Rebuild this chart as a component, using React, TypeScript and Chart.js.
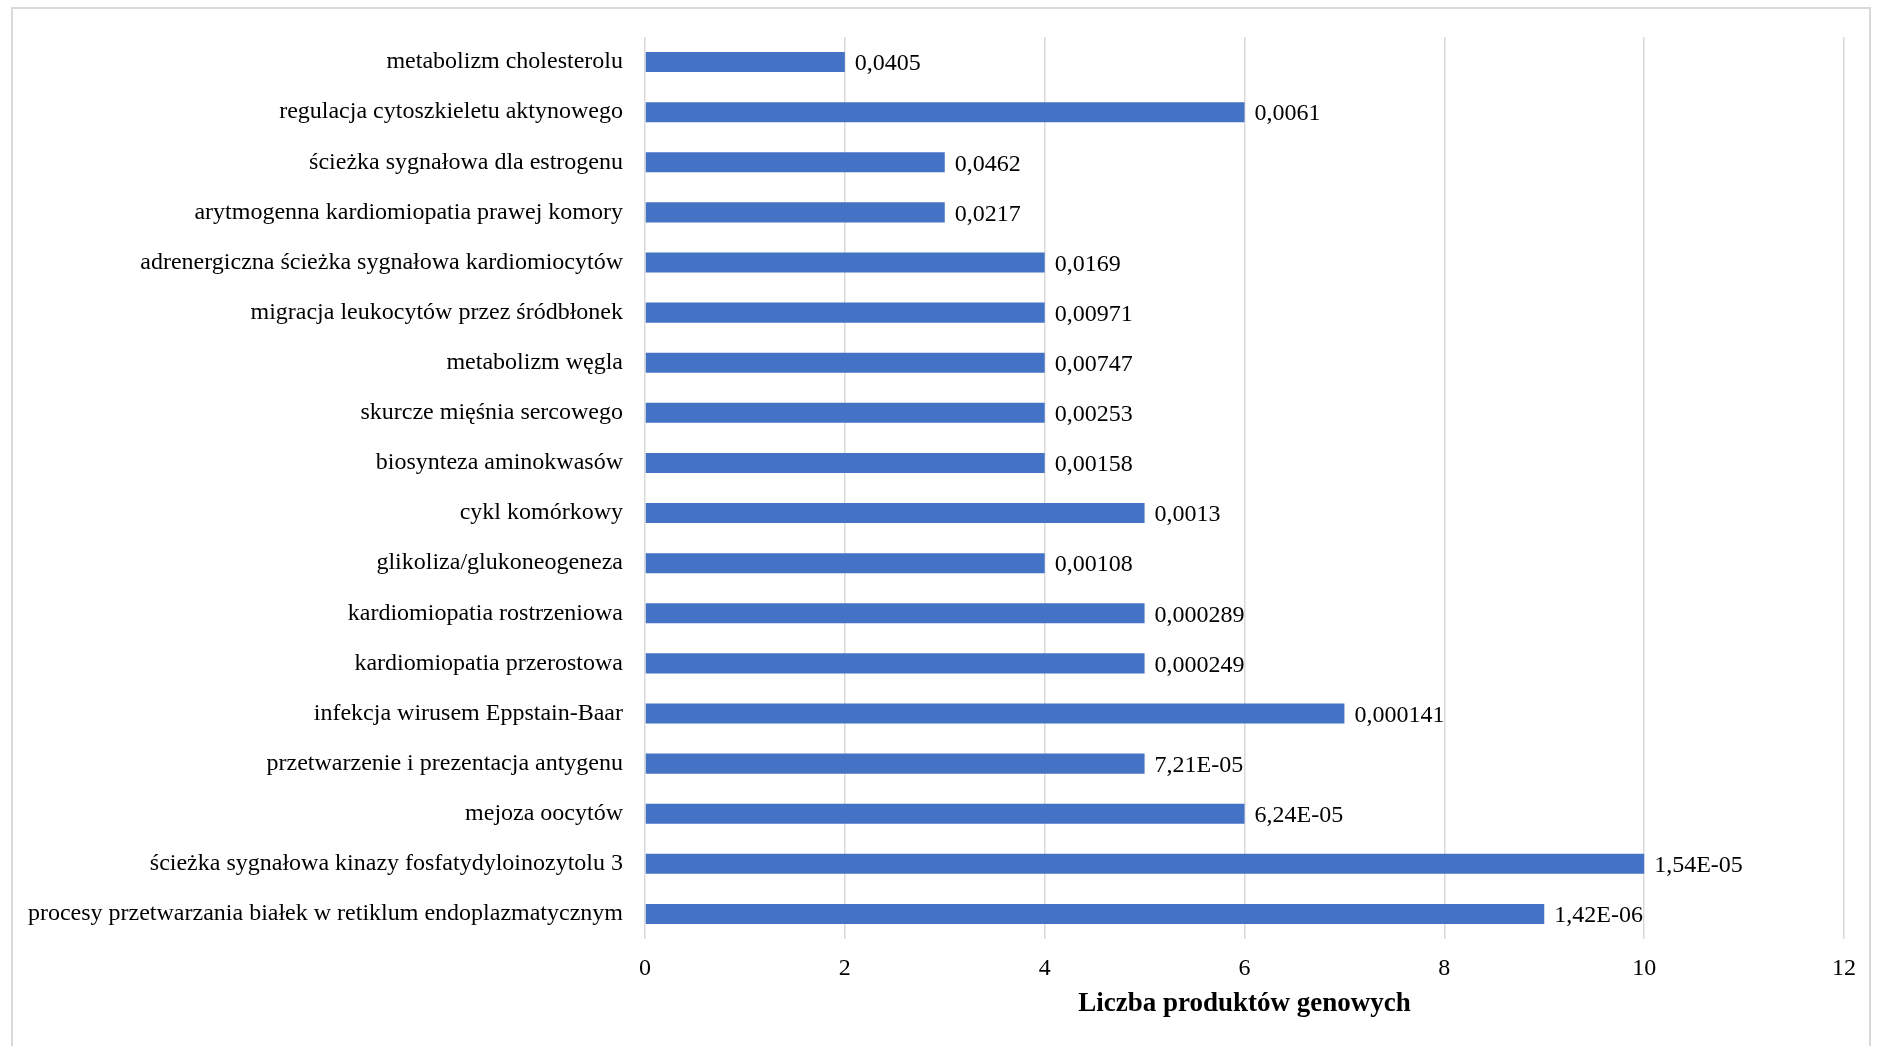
import { useEffect, useRef } from "react";
import { Chart, registerables } from "chart.js";

Chart.register(...registerables);

// KEGG pathways, top to bottom
const categories = [
  "metabolizm cholesterolu",
  "regulacja cytoszkieletu aktynowego",
  "ścieżka sygnałowa dla estrogenu",
  "arytmogenna kardiomiopatia prawej komory",
  "adrenergiczna ścieżka sygnałowa kardiomiocytów",
  "migracja leukocytów przez śródbłonek",
  "metabolizm węgla",
  "skurcze mięśnia sercowego",
  "biosynteza aminokwasów",
  "cykl komórkowy",
  "glikoliza/glukoneogeneza",
  "kardiomiopatia rostrzeniowa",
  "kardiomiopatia przerostowa",
  "infekcja wirusem Eppstain-Baar",
  "przetwarzenie i prezentacja antygenu",
  "mejoza oocytów",
  "ścieżka sygnałowa kinazy fosfatydyloinozytolu 3",
  "procesy przetwarzania białek w retiklum endoplazmatycznym",
];

// number of gene products per pathway
const geneCounts = [2, 6, 3, 3, 4, 4, 4, 4, 4, 5, 4, 5, 5, 7, 5, 6, 10, 9];

// p-value shown next to each bar
const pValues = [
  "0,0405",
  "0,0061",
  "0,0462",
  "0,0217",
  "0,0169",
  "0,00971",
  "0,00747",
  "0,00253",
  "0,00158",
  "0,0013",
  "0,00108",
  "0,000289",
  "0,000249",
  "0,000141",
  "7,21E-05",
  "6,24E-05",
  "1,54E-05",
  "1,42E-06",
];

const axisMin = 0;
const axisMax = 12;
const axisStep = 2;
const axisTitle = "Liczba produktów genowych";

const FONT = '"Liberation Serif", "Times New Roman", Times, serif';
const BAR_COLOR = "#4472C4";
const GRID_COLOR = "#d9d9d9";

const valueLabels = {
  id: "valueLabels",
  afterDatasetsDraw(chart: any) {
    const ctx = chart.ctx;
    const meta = chart.getDatasetMeta(0);
    ctx.save();
    ctx.font = `24px ${FONT}`;
    ctx.fillStyle = "#000";
    ctx.textAlign = "left";
    ctx.textBaseline = "middle";
    meta.data.forEach((bar: any, i: number) => {
      ctx.fillText(pValues[i], bar.x + 10, bar.y + 2);
    });
    ctx.restore();
  },
};

export default function App() {
  const canvasRef = useRef<HTMLCanvasElement | null>(null);

  useEffect(() => {
    if (!canvasRef.current) return;
    const chart = new Chart(canvasRef.current, {
      type: "bar",
      data: {
        labels: categories,
        datasets: [
          {
            data: geneCounts,
            backgroundColor: BAR_COLOR,
            borderWidth: 0,
            barPercentage: 0.4,
            categoryPercentage: 1.0,
          },
        ],
      },
      options: {
        indexAxis: "y",
        responsive: false,
        animation: false,
        devicePixelRatio: 1,
        layout: { padding: { left: 0, right: 39, top: 37, bottom: 0 } },
        plugins: {
          legend: { display: false },
          tooltip: { enabled: false },
        },
        scales: {
          x: {
            type: "linear",
            position: "bottom",
            min: axisMin,
            max: axisMax,
            ticks: {
              stepSize: axisStep,
              color: "#000",
              font: { family: FONT, size: 24 },
              padding: 15,
            },
            grid: {
              color: GRID_COLOR,
              lineWidth: 1.5,
              drawTicks: false,
            },
            border: { display: false },
            title: {
              display: true,
              text: axisTitle,
              color: "#000",
              font: { family: FONT, size: 27, weight: "bold" },
              padding: { top: 0, bottom: 26 },
            },
            afterFit(scale: any) {
              scale.height = 107;
            },
          },
          y: {
            type: "category",
            offset: true,
            ticks: {
              color: "#000",
              font: { family: FONT, size: 24 },
              padding: 22,
              autoSkip: false,
            },
            grid: { display: false, drawTicks: false },
            border: { display: false },
            afterFit(scale: any) {
              scale.width = 645;
            },
          },
        },
      },
      plugins: [valueLabels],
    });
    return () => chart.destroy();
  }, []);

  return (
    <div
      style={{
        position: "fixed",
        left: 0,
        top: 0,
        width: 1883,
        height: 1046,
        overflow: "hidden",
        background: "#fff",
      }}
    >
      <div
        style={{
          position: "absolute",
          left: 11,
          top: 7,
          width: 1860,
          height: 1100,
          border: `2px solid ${GRID_COLOR}`,
          boxSizing: "border-box",
        }}
      />
      <canvas
        ref={canvasRef}
        width={1883}
        height={1046}
        style={{ position: "absolute", left: 0, top: 0, width: 1883, height: 1046 }}
      />
    </div>
  );
}
